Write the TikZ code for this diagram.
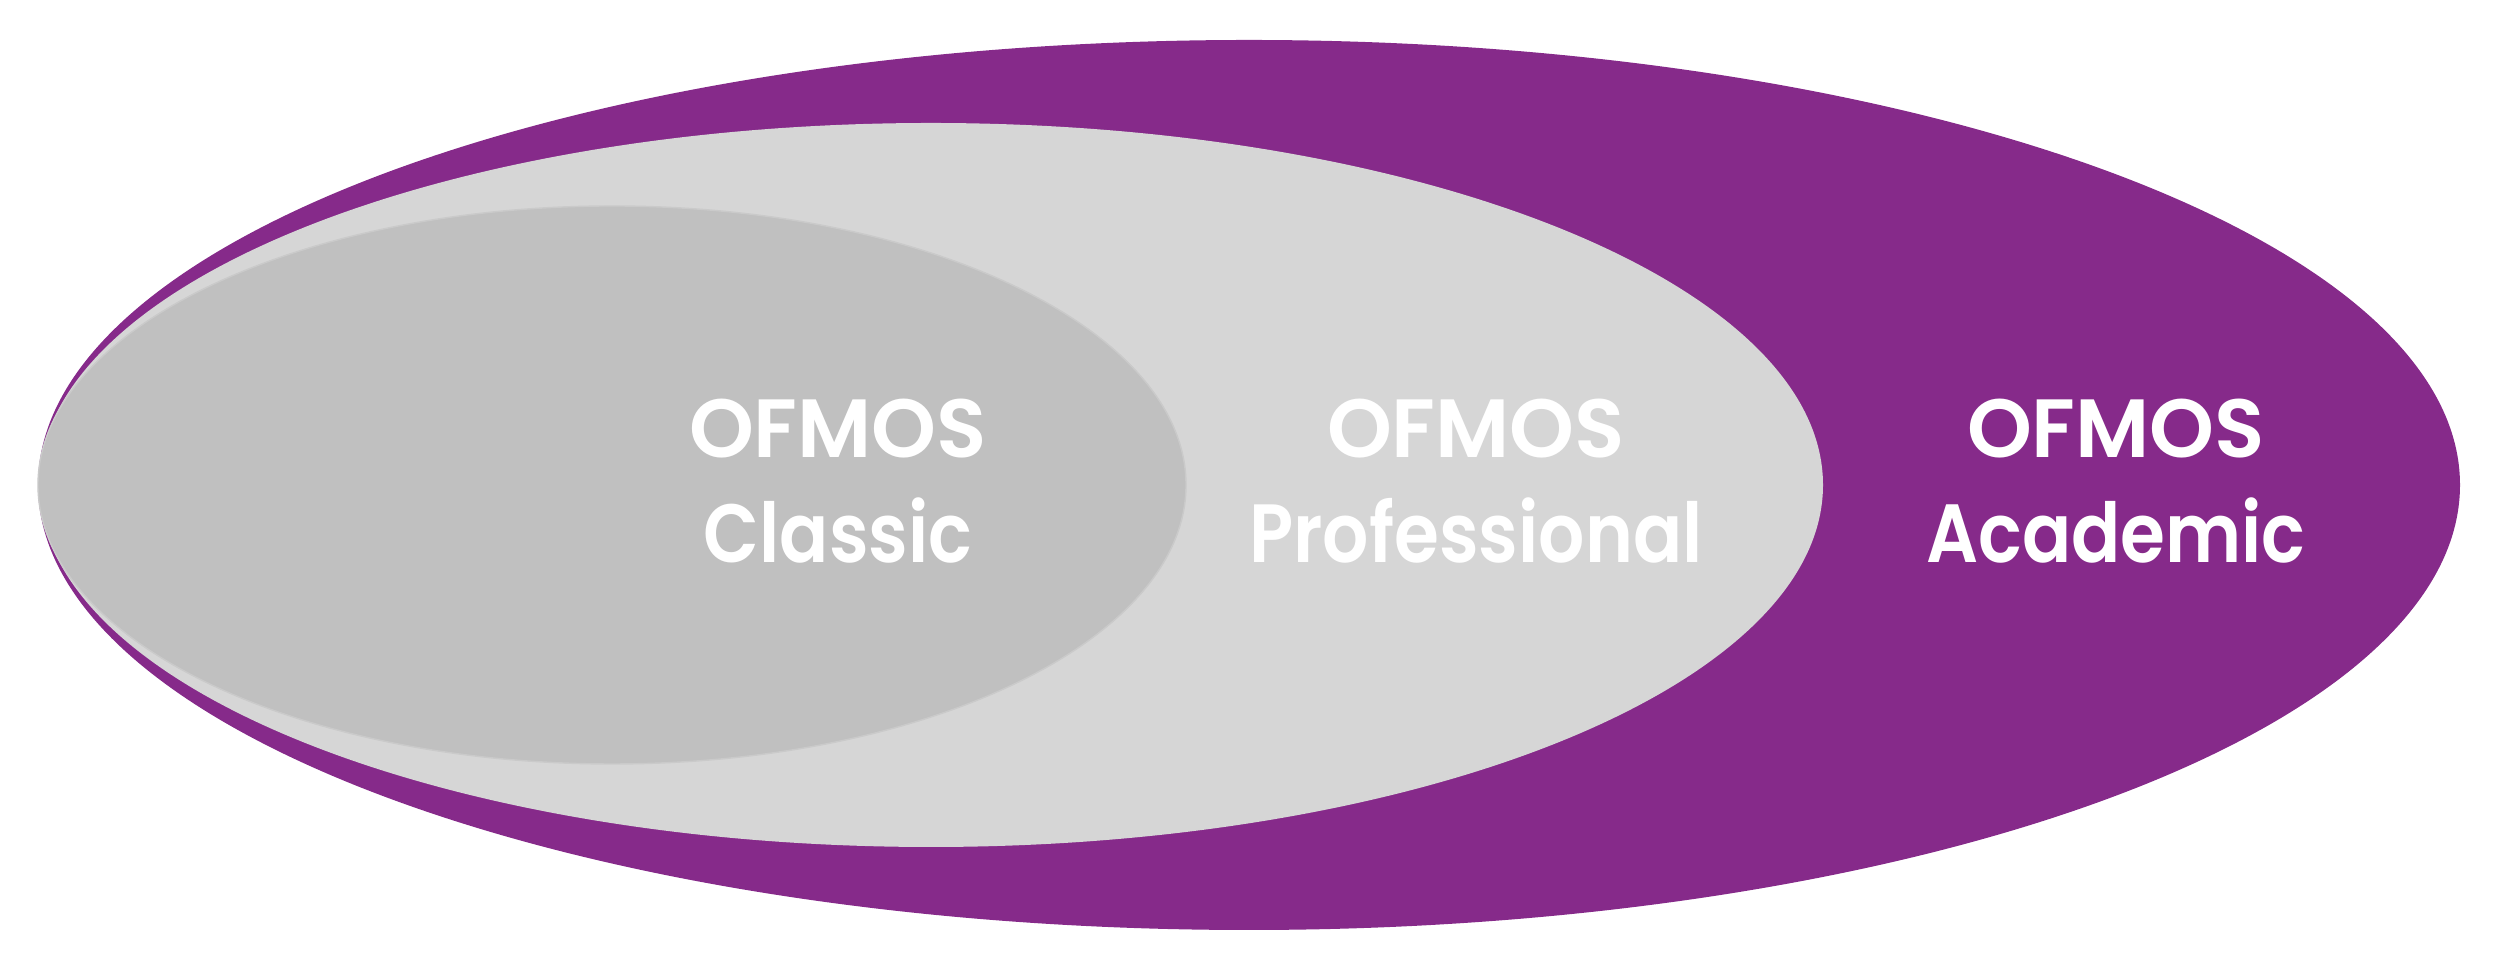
\documentclass[tikz,border=0pt]{standalone}
\usepackage{fontspec}
\setmainfont{Poppins}[BoldFont={* SemiBold}]
\newfontfamily\lowfont{Poppins SemiBold}[FakeStretch=0.88]
\definecolor{ofpurple}{HTML}{862A8A}
\definecolor{ofmid}{HTML}{D6D6D6}
\definecolor{ofinner}{HTML}{C0C0C0}
\definecolor{ofedge}{HTML}{CACACA}
\tikzset{
  lbl/.style={anchor=base, text=white, inner sep=0pt, font=\bfseries\fontsize{23.5}{28}\selectfont},
  lbltwo/.style={anchor=base, text=white, inner sep=0pt, font=\lowfont\fontsize{23.5}{28}\selectfont}
}
\begin{document}
\begin{tikzpicture}
\useasboundingbox (0,0) rectangle (25,9.71);
\fill[ofpurple] (12.49,4.86) ellipse [x radius=12.11, y radius=4.45];
\fill[ofmid] (9.31,4.86) ellipse [x radius=8.92, y radius=3.62];
\filldraw[fill=ofinner, draw=ofedge, line width=0.4pt] (6.12,4.86) ellipse [x radius=5.74, y radius=2.79];
\node[lbl] (c1) at (8.38,5.13) {OFMOS};
\node[lbltwo] (c2) at (8.38,4.08) {Classic};
\node[lbl] (p1) at (14.76,5.13) {OFMOS};
\node[lbltwo] (p2) at (14.76,4.08) {Professional};
\node[lbl] (a1) at (21.16,5.13) {OFMOS};
\node[lbltwo] (a2) at (21.16,4.08) {Academic};
\end{tikzpicture}
\end{document}
